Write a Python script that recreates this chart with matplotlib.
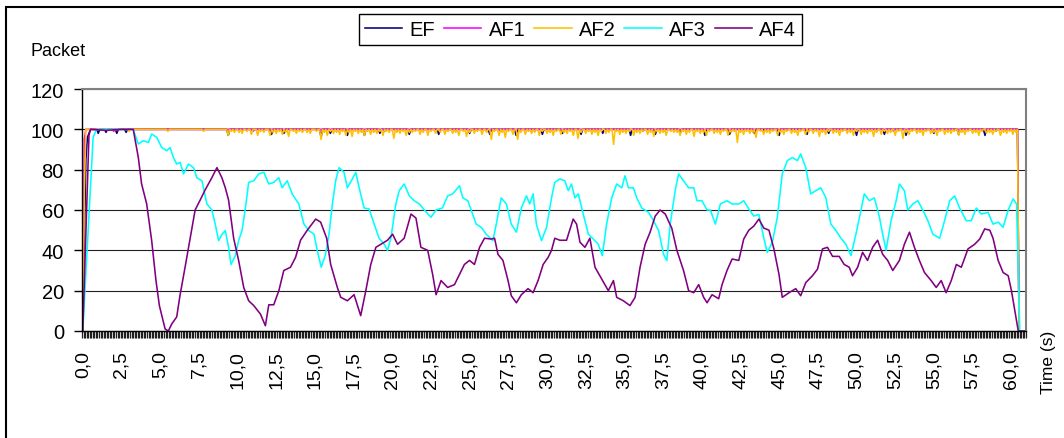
import numpy as np
import matplotlib
matplotlib.use("Agg")
import matplotlib.pyplot as plt
from matplotlib.patches import Rectangle

plt.rcParams['font.family'] = ['Liberation Sans', 'DejaVu Sans']

# category axis: one sample every 0.1 s
time = np.round(np.arange(0, 61.0, 0.1), 1)

# EF / AF1 / AF2 stay at ~100, only start ramp and dips listed
ef_start = [0, 45, 85, 96, 98]
af1_start = [0, 95]
af2_start = [0, 70, 100]
drop_time = 60.5

ef_dip_t = [1.0, 1.5, 2.2, 2.8, 9.4, 12.2, 13.0, 15.4, 16.0, 17.1, 18.2, 19.2, 21.1, 23.0,
            25.0, 26.3, 28.0, 29.7, 31.0, 32.2, 33.6, 35.4, 37.0, 38.6, 40.2, 41.8, 43.4,
            45.0, 46.8, 48.2, 50.0, 51.8, 53.2, 55.0, 56.6, 58.3]
ef_dip_v = [98, 98.5, 98, 98.5, 97, 97.5, 98, 96, 98, 97, 97, 98, 97.5, 97.5,
            98, 97.5, 97, 97.5, 98, 97.5, 98, 97, 97.5, 98, 97, 97.5, 98,
            97, 97.5, 98, 97, 97.5, 97, 98, 97.5, 97]

af1_dip_t = [2.0, 11.0, 19.5, 27.0, 36.2, 44.0, 52.4, 59.0]
af1_dip_v = [99, 99, 99, 99, 99, 99, 99, 99]

af2_dip_t = [3.0, 5.5, 7.8, 9.4, 9.8, 10.3, 10.9, 11.3, 11.7, 12.1, 12.5, 12.9, 13.3, 13.8,
             14.2, 14.7, 15.4, 15.8, 16.2, 16.6, 17.0, 17.4, 17.8, 18.2, 18.6, 19.0, 19.4,
             19.8, 20.1, 20.5, 20.9, 21.3, 21.8, 22.3, 22.8, 23.4, 23.9, 24.3, 24.8, 25.3,
             25.8, 26.4, 26.9, 27.3, 27.8, 28.1, 28.6, 29.0, 29.5, 30.0, 30.4, 30.9, 31.3,
             31.7, 32.0, 32.5, 32.9, 33.3, 33.8, 34.3, 34.7, 35.1, 35.6, 36.0, 36.5, 36.9,
             37.3, 37.7, 38.2, 38.6, 39.0, 39.5, 39.9, 40.3, 40.8, 41.2, 41.7, 42.3, 42.7,
             43.1, 43.5, 44.0, 44.4, 44.9, 45.3, 45.8, 46.2, 46.7, 47.2, 47.6, 48.0, 48.5,
             48.9, 49.4, 49.8, 50.3, 50.7, 51.1, 51.6, 52.0, 52.5, 53.0, 53.4, 53.9, 54.3,
             54.8, 55.2, 55.7, 56.1, 56.6, 57.0, 57.5, 57.9, 58.4, 58.8, 59.3, 59.7, 60.1]
af2_dip_v = [99, 99, 99, 97, 98.5, 98, 97.5, 97, 98.5, 97, 98, 97.5, 96.5, 98,
             98.5, 98, 95, 97, 98, 97.5, 97, 96.5, 98, 97, 97.5, 98, 97,
             98.5, 95.5, 98, 97, 98.5, 97.5, 97, 98, 97.5, 98, 97, 96.5, 98,
             97.5, 95, 97, 96, 97.5, 95, 97.5, 98, 97, 98, 97, 97.5, 98,
             97, 95.5, 98, 97.5, 97, 98, 92.5, 97.5, 98, 97, 98, 97.5, 96.5,
             98, 97, 98.5, 97, 97.5, 96.5, 98, 97, 98, 97.5, 97, 93.5, 97.5,
             98, 96, 97.5, 98, 97, 97.5, 98, 97, 97.5, 98, 96.5, 97.5, 98,
             97, 98, 97, 97.5, 98, 96.5, 97.5, 98, 97, 95.5, 97.5, 98, 97,
             98, 97, 97.5, 98, 97, 97.5, 98, 97, 98, 97.5, 97, 98, 97.5]

# smaller wiggles of AF2 between the dips above
af2_wig_t = [9.6, 10.1, 10.6, 11.5, 12.3, 12.7, 13.1, 13.6, 14.0, 14.5, 15.1, 15.6, 16.0,
             16.4, 16.8, 17.2, 17.6, 18.0, 18.4, 18.8, 19.2, 19.6, 20.3, 20.7, 21.1, 21.5,
             22.0, 22.5, 23.1, 23.6, 24.1, 24.6, 25.0, 25.5, 26.1, 26.6, 27.1, 27.5, 28.3,
             28.8, 29.2, 29.7, 30.2, 30.6, 31.1, 31.5, 32.2, 32.7, 33.1, 33.5, 34.0, 34.5,
             34.9, 35.3, 35.8, 36.2, 36.7, 37.1, 37.5, 38.0, 38.4, 38.8, 39.2, 39.7, 40.1,
             40.5, 41.0, 41.4, 41.9, 42.1, 42.5, 42.9, 43.3, 43.8, 44.2, 44.6, 45.1, 45.5,
             46.0, 46.4, 46.9, 47.4, 47.8, 48.2, 48.7, 49.1, 49.6, 50.0, 50.5, 50.9, 51.3,
             51.8, 52.2, 52.7, 53.2, 53.6, 54.1, 54.5, 55.0, 55.4, 55.9, 56.3, 56.8, 57.2,
             57.7, 58.1, 58.6, 59.0, 59.5, 59.9, 60.3]
af2_wig_v = [99, 98.5, 99, 99, 98.5, 99, 98.5, 99, 99, 98.5, 99, 98.5, 99,
             98.5, 99, 98.5, 99, 98.5, 99, 98.5, 99, 99, 98.5, 99, 98.5, 99,
             98.5, 99, 98.5, 99, 98.5, 99, 98.5, 99, 98.5, 99, 98.5, 99, 98.5,
             99, 98.5, 99, 98.5, 99, 98.5, 99, 98.5, 99, 98.5, 99, 98.5, 99,
             98.5, 99, 98.5, 99, 98.5, 99, 98.5, 99, 98.5, 99, 98.5, 99, 98.5,
             99, 98.5, 99, 98.5, 99, 98.5, 99, 98.5, 99, 98.5, 99, 98.5, 99,
             98.5, 99, 98.5, 99, 98.5, 99, 98.5, 99, 98.5, 99, 98.5, 99, 98.5,
             99, 98.5, 99, 98.5, 99, 98.5, 99, 98.5, 99, 98.5, 99, 98.5, 99,
             98.5, 99, 98.5, 99, 98.5, 99, 98.5]

# AF3 / AF4 (time s, packets)
af3_t = [0, 0.67, 0.89, 3.26, 3.59, 3.91, 4.24, 4.45, 4.78, 5.10, 5.43, 5.64, 5.86, 6.07,
         6.29, 6.51, 6.83, 7.16, 7.37, 7.70, 8.02, 8.34, 8.56, 8.78, 9.0, 9.21, 9.42, 9.58,
         9.86, 10.07, 10.29, 10.51, 10.72, 11.05, 11.37, 11.70, 12.02, 12.34, 12.67, 12.88,
         13.21, 13.53, 13.96, 14.29, 14.61, 14.94, 15.15, 15.41, 15.69, 15.91, 16.13, 16.34,
         16.56, 16.88, 17.10, 17.42, 17.64, 17.86, 18.18, 18.50, 18.83, 19.15, 19.48, 19.69,
         19.91, 20.23, 20.45, 20.77, 21.10, 21.42, 21.75, 22.07, 22.50, 22.83, 23.24, 23.58,
         23.91, 24.34, 24.56, 24.88, 25.10, 25.42, 25.75, 26.07, 26.50, 26.72, 27.04, 27.37,
         27.69, 28.02, 28.34, 28.67, 28.88, 29.10, 29.31, 29.64, 29.97, 30.29, 30.50, 30.83,
         31.15, 31.37, 31.58, 31.80, 32.02, 32.34, 32.67, 32.99, 33.31, 33.57, 33.85, 34.18,
         34.50, 34.83, 35.04, 35.26, 35.58, 35.80, 36.12, 36.56, 36.88, 37.21, 37.53, 37.74,
         37.96, 38.28, 38.50, 38.82, 39.15, 39.48, 39.69, 40.01, 40.34, 40.55, 40.88, 41.20,
         41.63, 41.96, 42.39, 42.71, 43.04, 43.36, 43.69, 44.01, 44.23, 44.56, 44.88, 45.20,
         45.53, 45.85, 46.18, 46.39, 46.72, 47.04, 47.37, 47.69, 48.02, 48.34, 48.67, 48.99,
         49.31, 49.64, 49.96, 50.29, 50.50, 50.83, 51.15, 51.48, 51.69, 51.91, 52.23, 52.56,
         52.77, 53.09, 53.31, 53.64, 53.96, 54.28, 54.61, 54.93, 55.37, 55.69, 56.02, 56.34,
         56.66, 57.09, 57.41, 57.74, 58.06, 58.50, 58.82, 59.15, 59.47, 59.80, 60.12, 60.34,
         60.55, 60.9]
af3_v = [0, 96, 100, 100, 92.7, 94.4, 93.5, 97.7, 96, 91, 89.4, 91, 86, 82.8,
         83.6, 77.9, 82.8, 81, 76, 74.5, 63, 60, 53, 44.8, 48, 49.8, 41.5, 33,
         37.4, 44.8, 49.8, 61, 73.7, 74.5, 77.9, 78.7, 72.9, 73.7, 76, 71,
         74.5, 68, 63, 53, 49.8, 48, 40, 31.6, 38, 48, 63, 74.5,
         81, 78.7, 71, 75.4, 78.7, 71, 61, 60.5, 53, 46, 43, 40,
         46, 63, 69.6, 72.9, 67, 64.6, 63, 60, 56.4, 60, 61, 67,
         68, 72, 66, 64.6, 60, 53, 51.4, 48, 44.8, 53, 66, 63,
         53, 49, 61, 67, 63, 68, 53, 44.8, 51.4, 66, 73.7, 75.4,
         74.5, 69.6, 72.9, 66, 68, 58, 48, 45.6, 43, 37.4, 53, 66,
         72.9, 71, 77, 71, 71, 66, 61, 58.8, 54.7, 49.8, 38, 34.9,
         53, 69.6, 77.9, 74.5, 71, 71, 64.6, 64.6, 60, 60, 53, 63,
         64.6, 63, 63, 64.6, 60.5, 57, 57.8, 46, 39, 44, 56.4, 77.9,
         84.5, 86, 84.5, 87.8, 81, 68, 69.6, 71, 66, 53, 49.8, 46,
         43, 37.4, 48, 60, 68, 64.6, 66, 56.4, 48, 40, 54.7, 64.6,
         72.9, 69.6, 60, 63, 64.6, 60, 54.7, 48, 46, 54.7, 64.6, 67,
         61, 54.7, 54.7, 61, 58, 58.8, 53, 54, 51.4, 60, 65.5, 63,
         0, 0]

af4_t = [0, 0.4, 0.5, 1.5, 2.5, 3.26, 3.59, 3.80, 4.13, 4.45, 4.73, 4.95, 5.32, 5.53, 5.75,
         6.07, 6.29, 6.61, 6.94, 7.26, 7.59, 7.91, 8.34, 8.67, 8.99, 9.21, 9.42, 9.75, 10.07,
         10.40, 10.72, 11.05, 11.48, 11.80, 12.02, 12.34, 12.67, 12.99, 13.42, 13.75, 14.07,
         14.51, 15.05, 15.37, 15.76, 16.02, 16.45, 16.67, 17.10, 17.53, 17.96, 18.29, 18.61,
         18.94, 19.26, 19.69, 20.02, 20.34, 20.77, 21.21, 21.53, 21.85, 22.29, 22.61, 22.83,
         23.15, 23.58, 24.02, 24.34, 24.66, 24.99, 25.31, 25.64, 25.96, 26.39, 26.61, 26.83,
         27.15, 27.48, 27.69, 28.02, 28.34, 28.77, 29.10, 29.42, 29.75, 30.07, 30.29, 30.50,
         30.83, 31.26, 31.69, 31.91, 32.13, 32.45, 32.77, 33.10, 33.53, 33.96, 34.29, 34.50,
         34.93, 35.36, 35.69, 36.01, 36.34, 36.66, 36.99, 37.31, 37.64, 38.06, 38.39, 38.82,
         39.15, 39.48, 39.80, 40.12, 40.34, 40.66, 41.09, 41.31, 41.63, 41.96, 42.39, 42.71,
         43.04, 43.36, 43.69, 44.01, 44.34, 44.66, 44.99, 45.20, 45.64, 46.07, 46.39, 46.72,
         47.15, 47.48, 47.80, 48.12, 48.45, 48.88, 49.20, 49.53, 49.74, 50.07, 50.39, 50.71,
         51.04, 51.36, 51.69, 52.01, 52.34, 52.77, 53.09, 53.42, 53.74, 54.06, 54.39, 54.82,
         55.15, 55.47, 55.79, 56.12, 56.45, 56.77, 57.20, 57.63, 57.96, 58.28, 58.61, 58.82,
         59.15, 59.47, 59.80, 60.01, 60.23, 60.45, 60.9]
af4_v = [0, 97, 100, 99.5, 100, 100, 86, 73, 63, 45, 25, 12.6, 1, 0, 3.5,
         7, 18, 31.6, 46, 60, 65, 70, 76, 81, 76, 71, 65, 46, 35,
         21.6, 15, 12.6, 8.4, 2.6, 13, 13, 20, 30, 31.6, 36.5, 45,
         50, 55.5, 54, 46, 33, 21.6, 16.7, 15, 18, 7.6, 20, 33,
         41.5, 43, 45, 48, 43, 46, 58, 56, 41.5, 40, 28, 18,
         25, 21.6, 23, 28, 33, 35, 33, 41.5, 46, 45.6, 46, 38,
         35, 25, 17.5, 14, 18, 21, 19, 25, 33, 36.5, 40, 46,
         45, 45, 55.5, 53, 44, 41.5, 46, 31.6, 25.8, 20, 25, 16.7,
         15, 12.6, 16.7, 31.6, 43, 49, 57, 60, 58, 51, 40, 30,
         20, 19, 23, 16.7, 14, 18, 16, 23, 30, 35.7, 35, 45.6,
         50, 52, 55.5, 51, 50, 40.7, 28, 16.7, 19, 21, 17.5, 24,
         27.4, 30.7, 40.7, 41.5, 37, 37, 33, 31.6, 27.4, 31.6, 39, 35,
         41.5, 45, 38, 35, 30, 35, 43, 49, 41.5, 35, 29, 25,
         21.6, 25, 19, 25, 33, 31.6, 40.7, 43, 45.6, 50.6, 50, 46,
         35, 29, 27.4, 20, 10, 0, 0]


def flat_series(start, dip_t, dip_v):
    s = np.full(len(time), 100.0)
    s[:len(start)] = start
    s[time >= drop_time] = 0
    for tt, vv in zip(dip_t, dip_v):
        s[np.isclose(time, tt)] = vv
    return s


ef = flat_series(ef_start, ef_dip_t, ef_dip_v)
af1 = flat_series(af1_start, af1_dip_t, af1_dip_v)
af2 = flat_series(af2_start, af2_dip_t + af2_wig_t, af2_dip_v + af2_wig_v)

fig = plt.figure(figsize=(10.64, 4.39), dpi=100)
ax = fig.add_axes([82 / 1064, 107 / 439, 944 / 1064, 242 / 439])

lw = 1.15
ax.plot(time, ef, color='#000080', lw=lw, label='EF', clip_on=False)
ax.plot(time, af1, color='#FF00FF', lw=lw, label='AF1', clip_on=False)
ax.plot(time, af2, color='#FFC000', lw=lw, label='AF2', clip_on=False)
ax.plot(af3_t, af3_v, color='#00FFFF', lw=lw, label='AF3', clip_on=False)
ax.plot(af4_t, af4_v, color='#800080', lw=lw, label='AF4', clip_on=False)

ax.set_xlim(-0.05, 60.95)
ax.set_ylim(0, 120)

ax.set_yticks(range(0, 121, 20))
ax.tick_params(axis='y', length=6, width=1, pad=7, labelsize=14.5)
ax.yaxis.grid(True, color='#222222', lw=0.8)
ax.set_axisbelow(True)

xt = np.arange(0, 60.01, 2.5)
ax.set_xticks(xt)
ax.set_xticklabels([f"{v:.1f}".replace('.', ',') for v in xt], rotation=90)
ax.set_xticks(np.arange(-0.05, 60.96, 0.1), minor=True)
ax.tick_params(axis='x', which='major', length=0, pad=14, labelsize=14)
ax.tick_params(axis='x', which='minor', length=5, width=0.9, color='#202020')

for side in ['left', 'bottom']:
    ax.spines[side].set_color('black')
    ax.spines[side].set_linewidth(1)
for side in ['top', 'right']:
    ax.spines[side].set_color('#808080')
    ax.spines[side].set_linewidth(1.5)

leg = ax.legend(loc='center', bbox_to_anchor=(580.5 / 1064, 1 - 30.5 / 439),
                bbox_transform=fig.transFigure, ncol=5, fontsize=14.5,
                fancybox=False, edgecolor='black', framealpha=1,
                handlelength=1.85, handletextpad=0.35, columnspacing=0.45,
                borderpad=0.3, borderaxespad=0)
leg.get_frame().set_linewidth(1.0)

fig.text(30 / 1064, 1 - 56 / 439, 'Packet', fontsize=13, ha='left', va='baseline')
fig.text(1048 / 1064, 1 - 362 / 439, 'Time (s)', fontsize=12.5, rotation=90,
         ha='center', va='center')

# outer chart border (only left and top edges are in view)
fig.add_artist(Rectangle((6 / 1064, -0.5), 2, 1.5 - 7.5 / 439, transform=fig.transFigure,
                         fill=False, edgecolor='black', lw=1.5))

fig.savefig('out.png', dpi=100)
